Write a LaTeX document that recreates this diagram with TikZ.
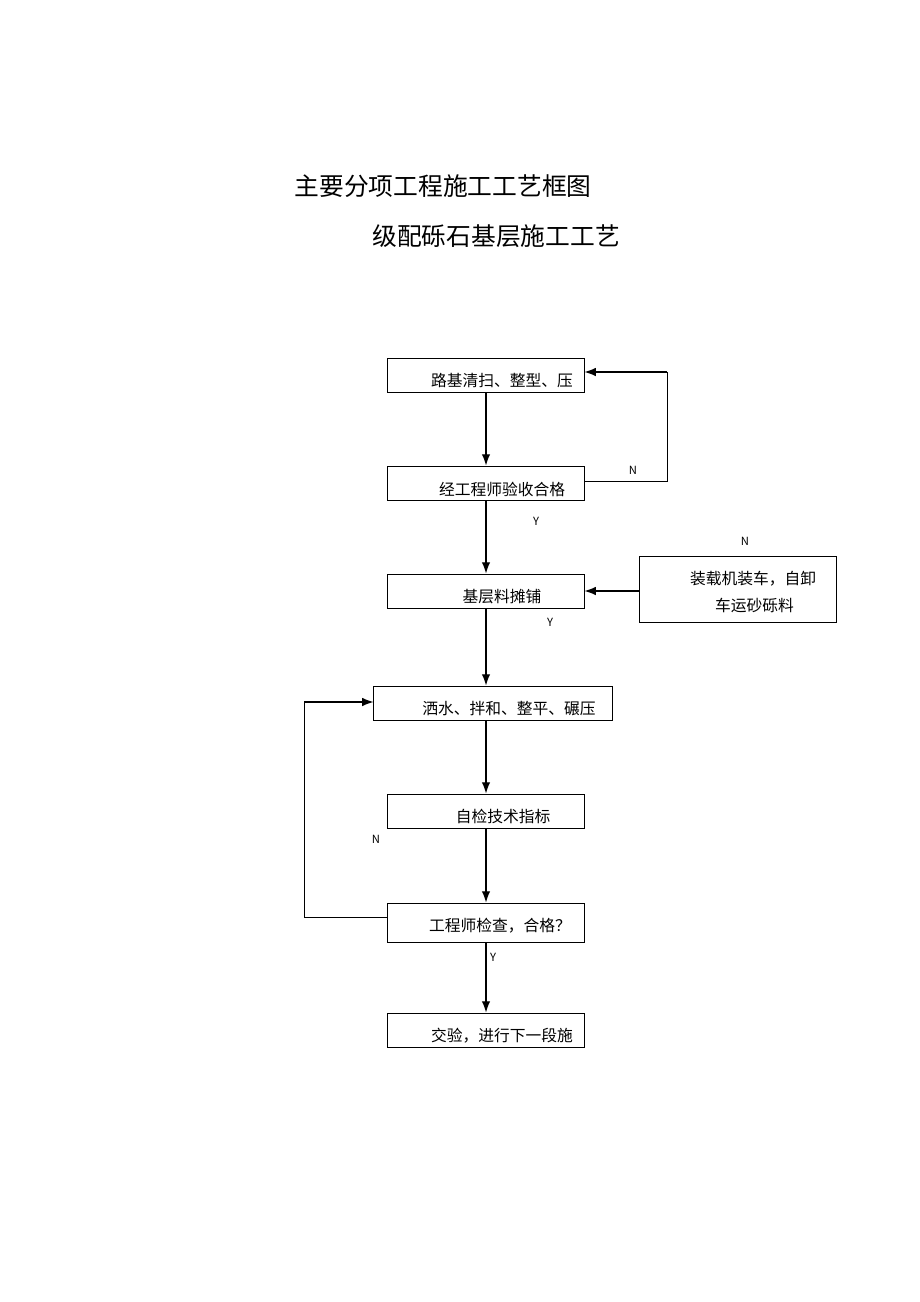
\documentclass[tikz,border=0pt]{standalone}
\usepackage{fontspec}
\setmainfont{Noto Sans CJK SC}
\usepackage{tikz}
\usetikzlibrary{arrows.meta,positioning,calc}

\begin{document}
\begin{tikzpicture}[
    x=0.025cm, y=-0.025cm,
    box/.style={rectangle, draw, line width=0.7pt, minimum width=4.9cm, minimum height=0.85cm, inner sep=0pt},
    txt/.style={font=\fontsize{11.2}{19}\selectfont, inner sep=0pt},
    yn/.style={font=\fontsize{8}{9}\selectfont, inner sep=0pt},
    arrow/.style={-{Latex[length=8pt,width=6pt]}, line width=0.8pt},
    line/.style={line width=0.7pt}
]
    \useasboundingbox (0,0) rectangle (920,1302);

    % Titles
    \node[font=\fontsize{17.6}{20}\selectfont] (title) at (443,186) {主要分项工程施工工艺框图};
    \node[font=\fontsize{17.6}{20}\selectfont] (subtitle) at (496,236) {级配砾石基层施工工艺};

    % Process boxes
    \node[box] (clean) at (486,375) {};
    \node[txt] (cleant) at (502,381) {路基清扫、整型、压};
    \node[box] (accept) at (486,483) {};
    \node[txt] (acceptt) at (502,489) {经工程师验收合格};
    \node[box] (spread) at (486,591) {};
    \node[txt] (spreadt) at (502,597) {基层料摊铺};
    \node[box, minimum height=1.65cm] (load) at (738,589) {};
    \node[txt, align=left] (loadt) at (753,592) {装载机装车，自卸\\\hspace{1.6em}车运砂砾料};
    \node[box, minimum width=5.95cm] (roll) at (493,703) {};
    \node[txt] (rollt) at (509,709) {洒水、拌和、整平、碾压};
    \node[box] (check) at (486,811) {};
    \node[txt] (checkt) at (503,816) {自检技术指标};
    \node[box, minimum height=0.975cm] (insp) at (486,922.5) {};
    \node[txt] (inspt) at (500,926) {工程师检查，合格？};
    \node[box] (next) at (486,1030) {};
    \node[txt] (nextt) at (502,1036) {交验，进行下一段施};

    % Main flow
    \draw[arrow] (clean) -- (accept);
    \draw[arrow] (accept) -- (spread);
    \draw[arrow] (spread.south) -- (spread.south |- roll.north);
    \draw[arrow] (roll.south -| check.north) -- (check);
    \draw[arrow] (check) -- (insp);
    \draw[arrow] (insp) -- (next);

    % Return loops
    \coordinate (r1) at (667,481);
    \draw[line] (accept.east |- r1) -- (r1) -- (667,372);
    \draw[arrow] (667,372) -- (clean.east |- 0,372);
    \draw[arrow] (load.west |- spread.east) -- (spread.east);
    \coordinate (r2) at (304,917);
    \draw[line] (insp.west |- r2) -- (r2) -- (304,702);
    \draw[arrow] (304,702) -- (roll.west |- 0,702);

    % Y / N marks
    \node[yn] (n1) at (633,470) {N};
    \node[yn] (y1) at (536,521) {Y};
    \node[yn] (n2) at (745,541) {N};
    \node[yn] (y2) at (550,622) {Y};
    \node[yn] (n3) at (376,839) {N};
    \node[yn] (y3) at (493,957) {Y};
\end{tikzpicture}
\end{document}
